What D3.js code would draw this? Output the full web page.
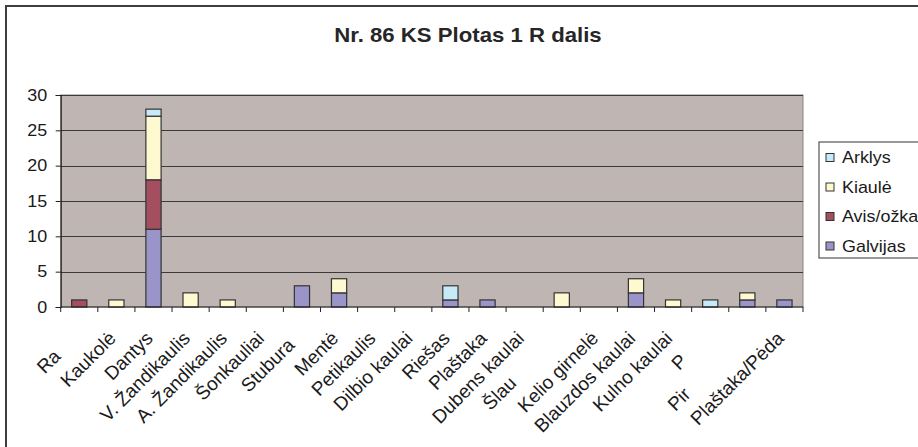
<!DOCTYPE html>
<html><head><meta charset="utf-8">
<script src="https://cdn.jsdelivr.net/npm/d3@7"></script>
<style>body{margin:0;background:#fff}svg{display:block;font-family:"Liberation Sans",Arial,sans-serif}</style>
</head><body>
<svg id="c" width="918" height="447"></svg>
<script>
const categories = ["Ragai","Kaukolė","Dantys","V. Žandikaulis","A. Žandikaulis","Šonkauliai","Stuburas","Mentė","Petikaulis","Dilbio kaulai","Riešas","Plaštaka","Dubens kaulai","Šlaunikaulis","Kelio girnelė","Blauzdos kaulai","Kulno kaulai","Pėda","Pirštakauliai","Plaštaka/Pėda"];
const labelShown = ["Ra","Kaukolė","Dantys","V. Žandikaulis","A. Žandikaulis","Šonkauliai","Stubura","Mentė","Petikaulis","Dilbio kaulai","Riešas","Plaštaka","Dubens kaulai","Šlau","Kelio girnelė","Blauzdos kaulai","Kulno kaulai","P","Pir","Plaštaka/Pėda"];
const seriesNames = ["Galvijas","Avis/ožka","Kiaulė","Arklys"];
const galvijas = [0,0,11,0,0,0,3,2,0,0,1,1,0,0,0,2,0,0,1,1];
const avisOzka = [1,0,7,0,0,0,0,0,0,0,0,0,0,0,0,0,0,0,0,0];
const kiaule   = [0,1,9,2,1,0,0,2,0,0,0,0,0,2,0,2,1,0,1,0];
const arklys   = [0,0,1,0,0,0,0,0,0,0,2,0,0,0,0,0,0,1,0,0];
const yTicks = [0,5,10,15,20,25,30];
const title = "Nr. 86 KS Plotas 1 R dalis";
const colors = ["#9a94c9","#a34f5f","#fff9d2","#c7e9f8"];

const svg = d3.select("#c");
const W = 918, H = 447;
const pLeft = 60.7, pRight = 803, pTop = 95, pBottom = 307;
const SX = 1.12; // horizontal stretch of text seen in the reference
const txt = "#1a1a1a";

// outer border
svg.append("rect").attr("x",6).attr("y",6).attr("width",W).attr("height",H)
  .attr("fill","#fff").attr("stroke","#3e3e3e").attr("stroke-width",2);

// title
svg.append("text").attr("transform",`translate(468,41.5) scale(${SX},1)`).attr("text-anchor","middle")
  .attr("font-size",19.8).attr("font-weight","bold").attr("fill","#262626").text(title);

const x = d3.scaleBand().domain(categories).range([pLeft,pRight]).padding(0);
const y = d3.scaleLinear().domain([0,30]).range([pBottom,pTop]);

// plot area
svg.append("rect").attr("x",pLeft).attr("y",pTop).attr("width",pRight-pLeft).attr("height",pBottom-pTop)
  .attr("fill","#bfb6b3").attr("stroke","#8a8584").attr("stroke-width",1);

// gridlines
svg.append("g").selectAll("line").data(yTicks.filter(d=>d>0)).join("line")
  .attr("x1",pLeft).attr("x2",pRight).attr("y1",d=>Math.round(y(d))+0.5).attr("y2",d=>Math.round(y(d))+0.5)
  .attr("stroke","#3a3a3a").attr("stroke-width",1);

// stacked bars
const data = categories.map((c,i)=>({cat:c, Galvijas:galvijas[i], "Avis/ožka":avisOzka[i], "Kiaulė":kiaule[i], "Arklys":arklys[i]}));
const stack = d3.stack().keys(seriesNames)(data);
const bw = x.bandwidth()*0.41;
stack.forEach((s,si)=>{
  svg.append("g").selectAll("rect").data(s.filter(d=>d[1]-d[0]>0)).join("rect")
    .attr("x",d=>x(d.data.cat)+x.bandwidth()/2-bw/2)
    .attr("width",bw)
    .attr("y",d=>y(d[1]))
    .attr("height",d=>y(d[0])-y(d[1]))
    .attr("fill",colors[si]).attr("stroke","#333").attr("stroke-width",1.2);
});

// y axis
const ya = svg.append("g").attr("transform",`translate(${pLeft},0)`)
  .call(d3.axisLeft(y).tickValues(yTicks).tickSize(5).tickPadding(8).tickFormat(d3.format("d")));
ya.select(".domain").attr("stroke","#222").attr("stroke-width",1.2);
ya.selectAll(".tick line").attr("stroke","#222");
ya.selectAll("text").attr("font-size",16).attr("fill",txt).attr("font-family","Liberation Sans, Arial, sans-serif")
  .attr("x",-13.5/SX).attr("transform",`scale(${SX},1)`);

// x axis
svg.append("line").attr("x1",pLeft).attr("x2",pRight).attr("y1",pBottom).attr("y2",pBottom)
  .attr("stroke","#222").attr("stroke-width",1.2);
const bounds = categories.map(c=>x(c)).concat([x.range()[1]]);
svg.append("g").selectAll("line").data(bounds).join("line")
  .attr("x1",d=>d).attr("x2",d=>d).attr("y1",pBottom).attr("y2",pBottom+5)
  .attr("stroke","#222").attr("stroke-width",1);

// x labels (rotated, truncated as in reference)
const lg = svg.append("g");
categories.forEach((c,i)=>{
  const cx = x(c)+x.bandwidth()/2;
  const g = lg.append("g").attr("transform",`translate(${cx+0.5},339.5) rotate(-45)`);
  const t = g.append("text").attr("font-size",19).attr("fill",txt).text(c);
  const L = t.node().getComputedTextLength();
  t.attr("x",-L).attr("text-anchor","start").text(labelShown[i]);
});

// legend
svg.append("rect").attr("x",819).attr("y",142).attr("width",140).attr("height",116)
  .attr("fill","#fff").attr("stroke","#333").attr("stroke-width",1);
const legOrder = seriesNames.map((n,i)=>({n,c:colors[i]})).reverse();
const lgd = svg.append("g").selectAll("g").data(legOrder).join("g")
  .attr("transform",(d,i)=>`translate(826,${157+i*29.5})`);
lgd.append("rect").attr("x",0).attr("y",-3.5).attr("width",8).attr("height",8)
  .attr("fill",d=>d.c).attr("stroke","#333").attr("stroke-width",1);
lgd.append("text").attr("transform",`translate(16,6) scale(${SX},1)`).attr("font-size",16).attr("fill",txt).text(d=>d.n);
</script>
</body></html>
